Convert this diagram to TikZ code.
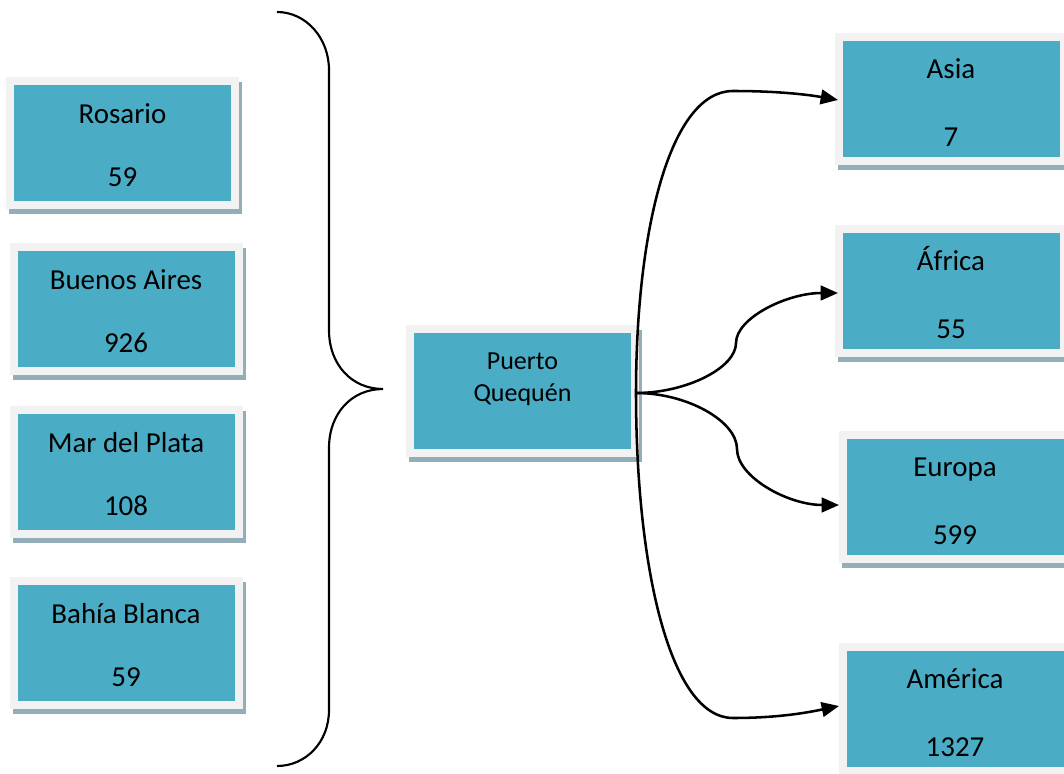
\documentclass[tikz,border=0pt]{standalone}
\usepackage{fontspec}
\setmainfont{Carlito}
\usetikzlibrary{arrows.meta,calc}
\definecolor{tealc}{HTML}{4BACC6}
\definecolor{framec}{HTML}{F2F2F2}
\definecolor{shadowc}{HTML}{93AEB8}
\newcommand{\tbox}[7]{%
  \node[cbox] (#1) at (#2,#3) {};
  \node[ctext] (#1-a) at ($(#1.center)+(0,#6)$) {#4};
  \node[ctext] (#1-b) at ($(#1.center)+(0,#7)$) {#5};
}
\begin{document}
\begin{tikzpicture}[x=0.75pt,y=-0.75pt,
  cbox/.style={rectangle, fill=tealc, draw=framec, line width=6pt,
    minimum width=168.75pt, minimum height=93pt, inner sep=0pt,
    preaction={fill=shadowc, draw=shadowc, line width=6pt,
      transform canvas={xshift=2.25pt,yshift=-3.75pt}}},
  ctext/.style={font=\fontsize{21.7}{26}\selectfont, anchor=base, inner sep=0pt},
  ptext/.style={font=\fontsize{19.5}{24}\selectfont, anchor=base, inner sep=0pt},
  conn/.style={line width=1.9pt, -{Triangle[length=13pt,width=11pt]}},
  brace/.style={line width=1.6pt}]
\useasboundingbox (0,0) rectangle (1064,774);

% left boxes
\tbox{ros}{122.5}{143}{Rosario}{59}{-20}{43}
\tbox{ba}{126}{309}{Buenos Aires}{926}{-20}{43}
\tbox{mdp}{126}{472}{Mar del Plata}{108}{-20}{43}
\tbox{bb}{126}{643}{Bahía Blanca}{59}{-20}{43}

% centre box
\node[cbox] (pq) at (522.5,390.5) {};
\node[ptext] (pq-a) at ($(pq.center)+(0,-21.5)$) {Puerto};
\node[ptext] (pq-b) at ($(pq.center)+(0,10.5)$) {Quequén};

% right boxes
\tbox{as}{951}{99}{Asia}{7}{-20.5}{47.5}
\tbox{af}{951}{290.5}{África}{55}{-20.5}{47.5}
\tbox{eu}{955}{497}{Europa}{599}{-20.5}{47.5}
\tbox{am}{955}{708.5}{América}{1327}{-20.5}{47.5}

% brace
\coordinate (btop) at (277,12);
\coordinate (btip) at (383,389);
\coordinate (bbot) at (277,766);
\draw[brace] (btop) .. controls (306,12) and (329,38) .. (329,70) -- (329,330)
  .. controls (329,365) and (352,389) .. (btip)
  .. controls (352,389) and (329,413) .. (329,448) -- (329,710)
  .. controls (329,742) and (306,766) .. (bbot);

% connectors
\coordinate (pqo) at ($(pq.east)+(-3,2.5)$);
\coordinate (asT) at ($(as.west)+(3.5,1)$);
\coordinate (afT) at ($(af.west)+(3.5,2.5)$);
\coordinate (euT) at ($(eu.west)+(0.5,8)$);
\coordinate (amT) at ($(am.west)+(0.5,-2.5)$);

\draw[conn] (pqo) .. controls (636,230) and (670,91) .. (733,91)
  .. controls (780,91) and (810,95) .. (asT);
\draw[conn] (pqo) .. controls (686,393) and (736,368) .. (736,343)
  .. controls (736,318) and (787,293) .. (afT);
\draw[conn] (pqo) .. controls (687,393) and (737,421) .. (737,449)
  .. controls (737,477) and (788,505) .. (euT);
\draw[conn] (pqo) .. controls (636,568) and (670,718) .. (733,718)
  .. controls (780,718) and (810,712) .. (amT);
\end{tikzpicture}
\end{document}
